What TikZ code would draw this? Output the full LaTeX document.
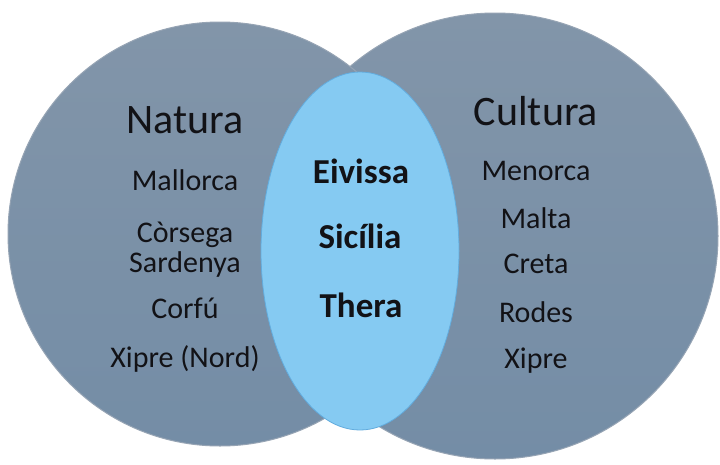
\documentclass[tikz,border=0pt]{standalone}
\usepackage{fontspec}
\setmainfont{Carlito}
\usetikzlibrary{shapes.geometric}
\definecolor{circtop}{RGB}{130,149,169}
\definecolor{circbot}{RGB}{116,141,166}
\definecolor{circedge}{RGB}{150,164,180}
\definecolor{lensfill}{RGB}{133,202,242}
\definecolor{lensedge}{RGB}{98,172,222}
\definecolor{txt}{RGB}{18,18,22}
\begin{document}
\begin{tikzpicture}[x=1pt,y=-1pt,
  bigcirc/.style={circle, inner sep=0pt, top color=circtop, bottom color=circbot, draw=circedge, line width=1pt},
  lens/.style={ellipse, inner sep=0pt, minimum width=198pt, minimum height=358pt, fill=lensfill, draw=lensedge, line width=0.8pt},
  head/.style={anchor=base, inner sep=0pt, text=txt, font=\fontsize{42}{46}\selectfont},
  item/.style={anchor=base, inner sep=0pt, text=txt, font=\fontsize{30}{34}\selectfont},
  mid/.style={anchor=base, inner sep=0pt, text=txt, font=\bfseries\fontsize{35}{38}\selectfont}]
\useasboundingbox (0,0) rectangle (720,464);
\fill[white] (0,0) rectangle (720,464);
% circles
\node[bigcirc, minimum size=446pt] (cultura) at (495,236) {};
\node[bigcirc, minimum size=424pt] (natura) at (220,234) {};
\node[lens] (both) at (360,251) {};
% left texts
\node[head] (tnat) at (185,133) {Natura};
\node[item] (mal) at (185,190) {Mallorca};
\node[item] (cor) at (185,242) {Còrsega};
\node[item] (sar) at (185,272) {Sardenya};
\node[item] (crf) at (185,318) {Corfú};
\node[item] (xpn) at (185,367) {Xipre (Nord)};
% middle texts
\node[mid] (eiv) at (361,183) {Eivissa};
\node[mid] (sic) at (360,248) {Sicília};
\node[mid] (the) at (361,317) {Thera};
% right texts
\node[head] (tcul) at (536,125) {Cultura};
\node[item] (men) at (536,180) {Menorca};
\node[item] (mlt) at (536,228) {Malta};
\node[item] (cre) at (536,273) {Creta};
\node[item] (rod) at (536,322) {Rodes};
\node[item] (xip) at (536,368) {Xipre};
\end{tikzpicture}
\end{document}
